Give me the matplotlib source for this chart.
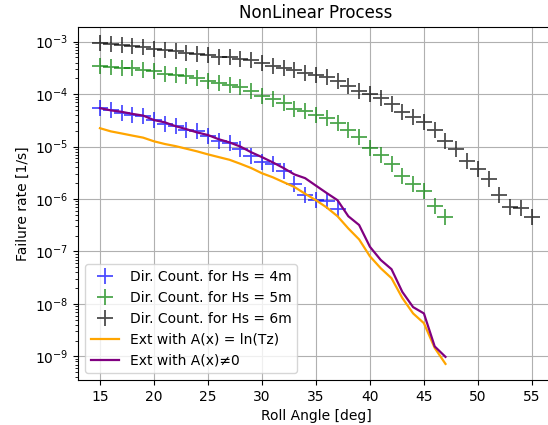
import numpy as np
import matplotlib
matplotlib.use("Agg")
import matplotlib.pyplot as plt

# roll angles [deg]
angle_hs4 = np.arange(15, 38)
angle_hs5 = np.arange(15, 48)
angle_hs6 = np.arange(15, 56)
angle_ext = np.arange(15, 48)

# direct counting failure rates [1/s]
rate_hs4 = [5.4e-5, 4.9e-5, 4.4e-5, 4.0e-5, 3.8e-5, 3.2e-5, 2.7e-5, 2.5e-5, 2.1e-5, 1.95e-5,
            1.6e-5, 1.25e-5, 1.17e-5, 9.1e-6, 6.6e-6, 5.0e-6, 4.7e-6, 3.4e-6, 1.95e-6, 1.17e-6,
            9.5e-7, 9.3e-7, 6.6e-7]
rate_hs5 = [3.5e-4, 3.3e-4, 3.2e-4, 3.1e-4, 2.9e-4, 2.7e-4, 2.45e-4, 2.3e-4, 2.2e-4, 2.0e-4,
            1.8e-4, 1.6e-4, 1.5e-4, 1.35e-4, 1.17e-4, 9.1e-5, 7.9e-5, 6.8e-5, 5.2e-5, 4.7e-5,
            4.0e-5, 3.5e-5, 2.8e-5, 2.1e-5, 1.5e-5, 9.3e-6, 6.8e-6, 4.7e-6, 2.8e-6, 1.95e-6,
            1.4e-6, 7.4e-7, 4.6e-7]
rate_hs6 = [9.5e-4, 8.9e-4, 8.7e-4, 8.3e-4, 7.8e-4, 7.4e-4, 6.9e-4, 6.6e-4, 6.2e-4, 5.9e-4,
            5.5e-4, 5.2e-4, 5.0e-4, 4.7e-4, 4.5e-4, 4.0e-4, 3.5e-4, 3.2e-4, 2.9e-4, 2.5e-4,
            2.3e-4, 2.1e-4, 1.8e-4, 1.4e-4, 1.15e-4, 1.0e-4, 8.5e-5, 6.5e-5, 4.5e-5, 3.6e-5,
            2.9e-5, 2.05e-5, 1.3e-5, 8.9e-6, 5.4e-6, 3.7e-6, 2.4e-6, 1.17e-6, 7.1e-7, 6.8e-7,
            4.6e-7]

# extrapolated rates (Hs = 4m)
rate_ext_ln = [2.24e-5, 1.95e-5, 1.78e-5, 1.62e-5, 1.48e-5, 1.26e-5, 1.12e-5, 1.02e-5, 9.1e-6,
               8.1e-6, 7.1e-6, 6.3e-6, 5.6e-6, 4.7e-6, 3.9e-6, 3.1e-6, 2.6e-6, 2.1e-6, 1.7e-6,
               1.26e-6, 9.5e-7, 6.9e-7, 4.7e-7, 2.75e-7, 1.7e-7, 8.1e-8, 4.8e-8, 3.1e-8, 1.3e-8,
               6.6e-9, 4.3e-9, 1.45e-9, 7.2e-10]
rate_ext_ax = [5.4e-5, 4.9e-5, 4.6e-5, 4.2e-5, 3.9e-5, 3.2e-5, 2.9e-5, 2.45e-5, 2.15e-5,
               1.86e-5, 1.66e-5, 1.38e-5, 1.2e-5, 1.0e-5, 7.8e-6, 6.3e-6, 5.0e-6, 3.9e-6,
               2.95e-6, 2.5e-6, 1.8e-6, 1.3e-6, 9.5e-7, 4.7e-7, 3.2e-7, 1.23e-7, 6.9e-8, 4.6e-8,
               1.7e-8, 8.7e-9, 6.6e-9, 1.55e-9, 9.8e-10]

fig = plt.figure(figsize=(5.48, 4.25), dpi=100)
ax = fig.add_axes([0.143, 0.106, 0.867, 0.831])

cross = dict(ls="none", marker="+", ms=12, mew=1.3, alpha=0.7)
ax.plot(angle_hs4, rate_hs4, color="blue", label="Dir. Count. for Hs = 4m", **cross)
ax.plot(angle_hs5, rate_hs5, color="green", label="Dir. Count. for Hs = 5m", **cross)
ax.plot(angle_hs6, rate_hs6, color="black", label="Dir. Count. for Hs = 6m", **cross)
ax.plot(angle_ext, rate_ext_ln, color="orange", lw=1.6, label="Ext with A(x) = ln(Tz)")
ax.plot(angle_ext, rate_ext_ax, color="purple", lw=1.6, label="Ext with A(x)\u22600")

ax.set_yscale("log")
ax.set_xticks(range(15, 56, 5))
ax.grid(True)
ax.set_title("NonLinear Process")
ax.set_xlabel("Roll Angle [deg]")
ax.set_ylabel("Failure rate [1/s]")
ax.legend(loc="lower left")

fig.savefig("out.png", dpi=100)
